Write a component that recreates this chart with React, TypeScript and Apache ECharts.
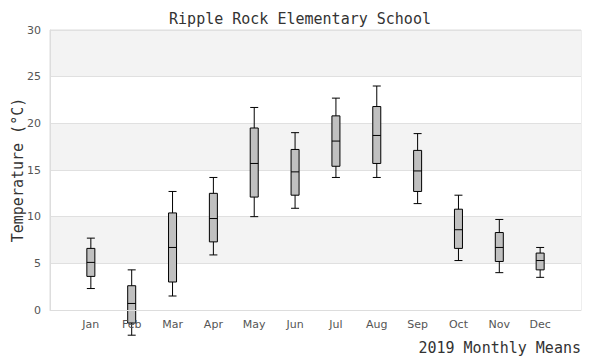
import React, { useEffect, useRef } from "react";
import * as echarts from "echarts";

const months = ["Jan", "Feb", "Mar", "Apr", "May", "Jun", "Jul", "Aug", "Sep", "Oct", "Nov", "Dec"];
const mins = [2.3, -2.7, 1.5, 5.9, 10.0, 10.9, 14.2, 14.2, 11.4, 5.3, 4.0, 3.5];
const q1s = [3.6, -1.4, 3.0, 7.3, 12.1, 12.3, 15.4, 15.7, 12.7, 6.6, 5.2, 4.3];
const medians = [5.1, 0.7, 6.7, 9.8, 15.7, 14.8, 18.1, 18.7, 14.9, 8.6, 6.7, 5.3];
const q3s = [6.6, 2.6, 10.4, 12.5, 19.5, 17.2, 20.8, 21.8, 17.1, 10.8, 8.3, 6.1];
const maxs = [7.7, 4.3, 12.7, 14.2, 21.7, 19.0, 22.7, 24.0, 18.9, 12.3, 9.7, 6.7];
const yTicks = { min: 0, max: 30, interval: 5 };

const MONO = "'DejaVu Sans Mono', monospace";
const SANS = "'DejaVu Sans', sans-serif";

export default function App() {
  const ref = useRef<HTMLDivElement>(null);
  useEffect(() => {
    if (!ref.current) return;
    const chart = echarts.init(ref.current, null, { renderer: "svg" });
    const cats = ["", ...months, ""];
    const data = months.map((_, i) => [i + 1, mins[i], q1s[i], medians[i], q3s[i], maxs[i]]);
    chart.setOption({
      animation: false,
      backgroundColor: "#ffffff",
      title: {
        text: "Ripple Rock Elementary School",
        left: "center",
        top: 6,
        textStyle: { fontFamily: MONO, fontSize: 15, fontWeight: "normal", color: "#333" },
      },
      grid: {
        left: 50,
        right: 19,
        top: 30,
        bottom: 50,
        show: true,
        borderColor: "#dddddd",
        borderWidth: 1,
        containLabel: false,
        outerBoundsMode: "none",
      },
      xAxis: {
        type: "category",
        data: cats,
        boundaryGap: false,
        z: 10,
        axisTick: { show: false },
        axisLine: { show: true, lineStyle: { color: "#dddddd" } },
        axisLabel: { interval: 0, color: "#555", fontFamily: SANS, fontSize: 11, margin: 9 },
        splitLine: { show: false },
        name: "2019 Monthly Means",
        nameLocation: "end",
        nameGap: 0,
        nameMoveOverlap: false,
        nameTextStyle: {
          fontFamily: MONO,
          fontSize: 15,
          color: "#333",
          align: "right",
          verticalAlign: "top",
          padding: [30, 0, 0, 0],
        },
      },
      yAxis: {
        type: "value",
        min: yTicks.min,
        max: yTicks.max,
        interval: yTicks.interval,
        axisLine: { show: true, lineStyle: { color: "#dddddd" } },
        axisTick: { show: false },
        axisLabel: { color: "#555", fontFamily: SANS, fontSize: 11, margin: 9 },
        splitLine: { show: true, lineStyle: { color: "#e0e0e0" } },
        splitArea: { show: true, areaStyle: { color: ["#ffffff", "#f3f3f3"] } },
        name: "Temperature (°C)",
        nameLocation: "middle",
        nameGap: 25,
        nameMoveOverlap: false,
        nameTextStyle: { fontFamily: MONO, fontSize: 15, color: "#333" },
      },
      series: [
        {
          type: "boxplot",
          data,
          encode: { x: 0, y: [1, 2, 3, 4, 5] },
          boxWidth: [8, 8],
          itemStyle: { color: "#c0c0c0", borderColor: "#000000", borderWidth: 1 },
        },
      ],
    });
    return () => chart.dispose();
  }, []);
  return <div ref={ref} style={{ width: 600, height: 360, position: "absolute", left: 0, top: 0 }} />;
}
